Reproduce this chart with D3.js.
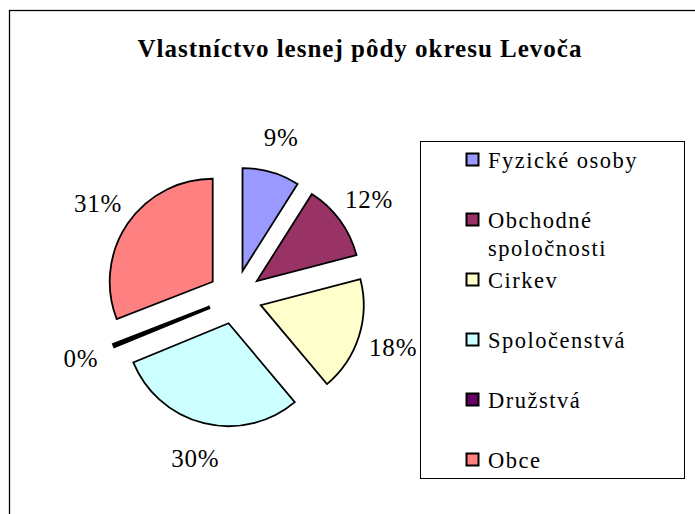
<!DOCTYPE html>
<html>
<head>
<meta charset="utf-8">
<script src="https://cdn.jsdelivr.net/npm/d3@7"></script>
<style>
  html, body { margin: 0; padding: 0; background: #fff; }
  svg { display: block; }
</style>
</head>
<body>
<svg id="chart" width="695" height="514"></svg>
<script>
// ---- data ----
const title = "Vlastníctvo lesnej pôdy okresu Levoča";
const categories = ["Fyzické osoby", "Obchodné spoločnosti", "Cirkev", "Spoločenstvá", "Družstvá", "Obce"];
const values = [9, 12, 18, 30, 0.3, 31];
const colors = ["#9999FF", "#993366", "#FFFFCC", "#CCFFFF", "#660066", "#FF8080"];

const W = 695, H = 514;
const svg = d3.select("#chart");
const serif = "'Liberation Serif', 'Times New Roman', serif";

// outer chart frame (extends past the window on right/bottom)
svg.append("rect")
  .attr("x", 9.5).attr("y", 10.5)
  .attr("width", 720).attr("height", 540)
  .attr("fill", "#fff").attr("stroke", "#000").attr("stroke-width", 1.3);

// title
svg.append("text")
  .attr("x", 360).attr("y", 57)
  .attr("text-anchor", "middle")
  .attr("font-family", serif)
  .attr("font-weight", "bold")
  .attr("font-size", 25)
  .attr("letter-spacing", 1.0)
  .attr("fill", "#000")
  .text(title);

// pie
const cx = 235, cy = 297, r = 103, explode = 27, labelR = 166;
const total = d3.sum(values);
const pie = d3.pie().sort(null).value(d => d).startAngle(0).endAngle(2 * Math.PI);
const arcs = pie(values);
const arc = d3.arc().innerRadius(0).outerRadius(r);
const g = svg.append("g").attr("transform", `translate(${cx},${cy})`);

g.selectAll("path.slice")
  .data(arcs)
  .join("path")
  .attr("class", "slice")
  .attr("d", arc)
  .attr("transform", d => {
    const a = (d.startAngle + d.endAngle) / 2;
    return `translate(${explode * Math.sin(a)},${-explode * Math.cos(a)})`;
  })
  .attr("fill", (d, i) => colors[i])
  .attr("stroke", "#000")
  .attr("stroke-width", (d) => (d.endAngle - d.startAngle) < 0.05 ? 3.5 : 1.8)
  .attr("stroke-linejoin", "miter");

g.selectAll("text.lbl")
  .data(arcs)
  .join("text")
  .attr("class", "lbl")
  .attr("x", d => labelR * Math.sin((d.startAngle + d.endAngle) / 2))
  .attr("y", d => -labelR * Math.cos((d.startAngle + d.endAngle) / 2))
  .attr("text-anchor", "middle")
  .attr("dominant-baseline", "central")
  .attr("font-family", serif)
  .attr("font-size", 25)
  .attr("letter-spacing", 0.8)
  .attr("fill", "#000")
  .text(d => Math.round(d.value / total * 100) + "%");

// legend
const lx = 420, ly = 141, lw = 264, lh = 337;
svg.append("rect")
  .attr("x", lx + 0.5).attr("y", ly + 0.5)
  .attr("width", lw).attr("height", lh)
  .attr("fill", "#fff").attr("stroke", "#000").attr("stroke-width", 1);

const legY = d3.scaleLinear().domain([0, categories.length - 1]).range([168, 468]);
const textX = 488, maxW = lx + lw - textX - 6;
const leg = svg.append("g");
categories.forEach((c, i) => {
  const y = legY(i);
  leg.append("rect")
    .attr("x", 466.5).attr("y", y - 14.5)
    .attr("width", 12).attr("height", 12)
    .attr("fill", colors[i]).attr("stroke", "#000").attr("stroke-width", 2);
  const t = leg.append("text")
    .attr("x", textX).attr("y", y)
    .attr("font-family", serif)
    .attr("font-size", 22.5)
    .attr("letter-spacing", 1.5)
    .attr("fill", "#000");
  // wrap words
  const words = c.split(" ");
  let line = [], lineNo = 0;
  let ts = t.append("tspan").attr("x", textX).attr("y", y);
  words.forEach(w => {
    line.push(w);
    ts.text(line.join(" "));
    if (ts.node().getComputedTextLength() > maxW && line.length > 1) {
      line.pop();
      ts.text(line.join(" "));
      line = [w];
      lineNo++;
      ts = t.append("tspan").attr("x", textX).attr("y", y + lineNo * 28).text(w);
    }
  });
});
</script>
</body>
</html>
